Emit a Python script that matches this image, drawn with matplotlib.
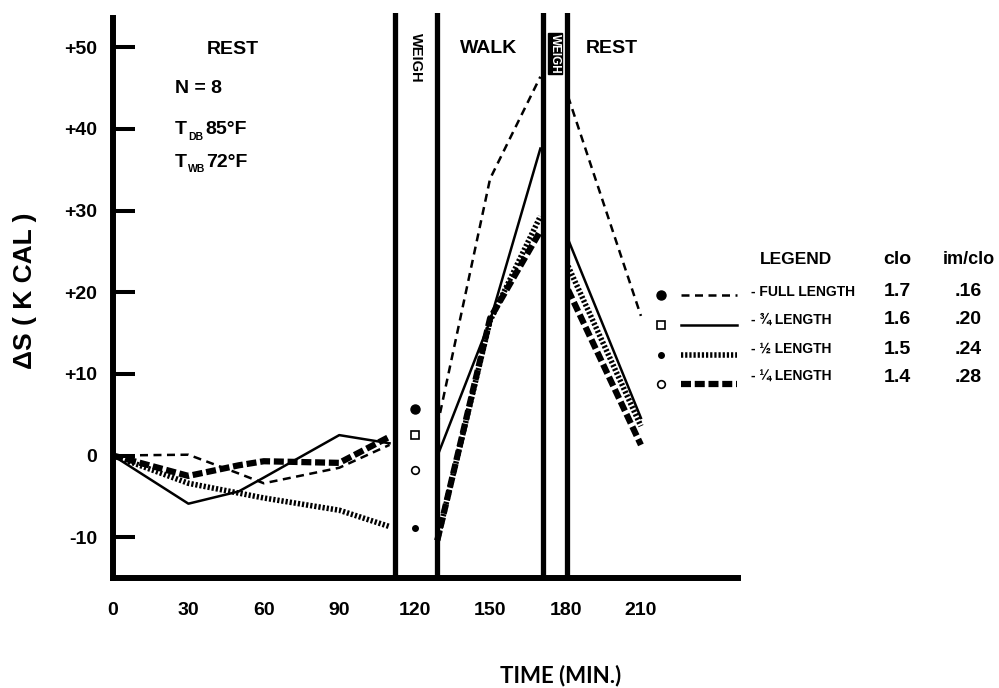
import matplotlib
matplotlib.use('Agg')
import matplotlib.pyplot as plt

FONT = ['Liberation Sans', 'DejaVu Sans']

# time axis (min)
rest_min = [0, 30, 50, 60, 90, 110]
walk_min = [129, 150, 170]
recov_min = [181, 210]
weigh_min = 120

# delta S (k cal) per garment
full_rest = [0, 0.1, -2.2, -3.4, -1.5, 1.3]
full_walk = [3.6, 33.9, 46.4]
full_recov = [44.0, 17.1]
full_weigh = 5.7

three_q_rest = [0, -5.9, -4.4, -2.7, 2.5, 1.5]
three_q_walk = [-0.1, 16.5, 37.6]
three_q_recov = [26.5, 4.6]
three_q_weigh = 2.5

half_rest = [0, -3.4, -4.6, -5.2, -6.7, -8.7]
half_walk = [-10.4, 16.5, 29.3]
half_recov = [23.2, 3.6]
half_weigh = -8.9

quarter_rest = [0, -2.5, -1.2, -0.7, -0.9, 2.3]
quarter_walk = [-10.4, 16.8, 27.5]
quarter_recov = [20.3, 1.3]
quarter_weigh = -1.8

garments = ['FULL LENGTH', '¾ LENGTH', '½ LENGTH', '¼ LENGTH']
clo = ['1.7', '1.6', '1.5', '1.4']
im_clo = ['.16', '.20', '.24', '.28']

phase_edges = [112, 129, 171, 180.5]
x_ticks = [0, 30, 60, 90, 120, 150, 180, 210]
x_tick_marks = [30, 60, 90, 150, 210]
y_ticks = [-10, 0, 10, 20, 30, 40, 50]
y_tick_labels = ['-10', '0', '+10', '+20', '+30', '+40', '+50']

series = [
    (full_rest, full_walk, full_recov, full_weigh),
    (three_q_rest, three_q_walk, three_q_recov, three_q_weigh),
    (half_rest, half_walk, half_recov, half_weigh),
    (quarter_rest, quarter_walk, quarter_recov, quarter_weigh),
]
line_styles = [
    dict(color='black', lw=1.8, ls=(0, (3.2, 2.2))),
    dict(color='black', lw=1.8, ls='-'),
    dict(color='black', lw=4.0, ls=(0, (0.4, 0.35))),
    dict(color='black', lw=4.5, ls=(0, (1.6, 0.6))),
]
marker_styles = [
    dict(marker='o', ms=6.5, mfc='black'),
    dict(marker='s', ms=6, mfc='white', mew=1.2),
    dict(marker='o', ms=4, mfc='black'),
    dict(marker='o', ms=5.5, mfc='white', mew=1.2),
]

fig = plt.figure(figsize=(9.99, 6.88), dpi=100)
ax = fig.add_axes([0.1131, 0.1599, 0.6256, 0.8212])
ax.set_xlim(0, 248.6)
ax.set_ylim(-15, 54.2)

for (rest, walk, recov, w), st, mk in zip(series, line_styles, marker_styles):
    for t, v in ((rest_min, rest), (walk_min, walk), (recov_min, recov)):
        ax.plot(t, v, **st)
    ax.plot([weigh_min], [w], ls='none', color='black', mec='black', **mk)

for x in phase_edges:
    ax.axvline(x, color='black', lw=3.8)

# axes look like the old drafting style
for s in ['top', 'right']:
    ax.spines[s].set_visible(False)
for s in ['left', 'bottom']:
    ax.spines[s].set_linewidth(4.3)
ax.spines['left'].set_bounds(-15, 53.6)

ax.set_xticks(x_ticks)
ax.set_xticklabels([str(t) for t in x_ticks], family=FONT, fontweight='bold', fontsize=14)
ax.set_xticks(x_tick_marks, minor=True)
ax.tick_params(axis='x', which='major', length=0, pad=17)
ax.tick_params(axis='x', which='minor', direction='in', length=15, width=2.9)
ax.set_yticks(y_ticks)
ax.set_yticklabels(y_tick_labels, family=FONT, fontweight='bold', fontsize=14)
ax.tick_params(axis='y', direction='in', length=15.8, width=2.9, pad=11.5)

txt = dict(family=FONT, fontweight='bold', color='black')
ax.text(47.7, 49.7, 'REST', ha='center', va='center', fontsize=14, **txt)
ax.text(149.6, 49.8, 'WALK', ha='center', va='center', fontsize=14, **txt)
ax.text(198.5, 49.8, 'REST', ha='center', va='center', fontsize=14, **txt)
ax.text(120.5, 48.7, 'WEIGH', ha='center', va='center', rotation=270, fontsize=10.5, **txt)
ax.text(175.8, 49.2, 'WEIGH', ha='center', va='center', rotation=270, fontsize=8.5,
        family=FONT, fontweight='bold', color='white',
        bbox=dict(boxstyle='square,pad=0.05', fc='black', ec='black'))

ax.text(24.7, 45.0, 'N = 8', ha='left', va='center', fontsize=14, **txt)
for v, sub, temp in ((39.9, 'DB', '85°F'), (35.9, 'WB', '72°F')):
    ax.text(24.7, v, 'T', ha='left', va='center', fontsize=14, **txt)
    ax.annotate(sub, (24.7, v), xytext=(9.5, -5), textcoords='offset points',
                ha='left', va='center', fontsize=7.5, **txt)
    ax.annotate(temp, (24.7, v), xytext=(22, 0), textcoords='offset points',
                ha='left', va='center', fontsize=14, **txt)

# overlay in pixel units for labels and legend
lax = fig.add_axes([0, 0, 1, 1])
lax.set_xlim(0, 999)
lax.set_ylim(688, 0)
lax.axis('off')

lax.text(25, 291, 'ΔS ( K CAL )', rotation=90, ha='center', va='center', fontsize=19, **txt)
lax.text(561, 676, 'TIME (MIN.)', ha='center', va='center', fontsize=16,
         family=['Lato', 'DejaVu Sans'], fontweight='bold')

lax.text(796, 260, 'LEGEND', ha='center', va='center', fontsize=12.5, **txt)
lax.text(897, 260, 'clo', ha='center', va='center', fontsize=14, **txt)
lax.text(969, 260, 'im/clo', ha='center', va='center', fontsize=13, **txt)

key_rows = [295, 325, 355, 384]
text_rows = [292, 320, 349, 377]
for i in range(4):
    ky, ty = key_rows[i], text_rows[i]
    lax.plot([661], [ky], ls='none', color='black', mec='black', **marker_styles[i])
    lax.plot([681, 737], [ky, ky], **line_styles[i])
    lax.text(751, ty, '- ' + garments[i], ha='left', va='center', fontsize=10, **txt)
    lax.text(897, ty, clo[i], ha='center', va='center', fontsize=14, **txt)
    lax.text(968, ty, im_clo[i], ha='center', va='center', fontsize=14, **txt)

fig.savefig('out.png', dpi=100)
